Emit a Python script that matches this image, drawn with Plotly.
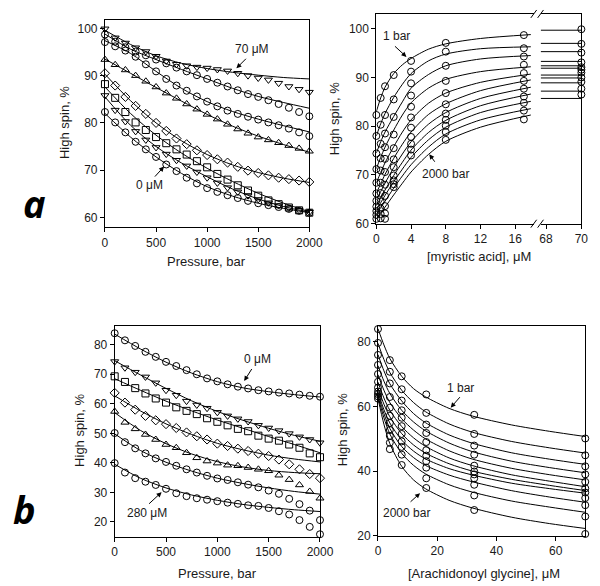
import plotly.graph_objects as go

W, H = 600, 586

# ================= panel a: myristic acid =================
pressure_a = list(range(0, 2001, 100))
conc_a = [0, 0.5, 1, 2, 4, 8, 17, 70]
hs_a_0   = [82.3, 80.1, 78.0, 76.0, 74.4, 72.8, 71.2, 69.8, 68.4, 67.2, 66.2, 65.4, 64.7, 64.1, 63.5, 63.0, 62.6, 62.2, 61.8, 61.4, 61.0]
hs_a_05  = [85.8, 82.7, 80.3, 78.2, 76.4, 74.8, 73.4, 72.1, 70.9, 69.6, 68.4, 67.3, 66.3, 65.4, 64.6, 63.8, 63.1, 62.5, 62.0, 61.5, 61.1]
hs_a_1   = [88.2, 85.3, 82.3, 80.1, 78.5, 77.0, 75.7, 74.4, 73.3, 71.9, 70.6, 69.2, 68.0, 66.8, 65.7, 64.6, 63.6, 62.8, 62.1, 61.5, 61.0]
hs_a_2   = [90.5, 87.9, 85.5, 83.6, 81.9, 80.0, 78.3, 76.7, 75.5, 74.2, 73.2, 72.3, 71.6, 70.7, 69.9, 69.4, 68.9, 68.4, 68.1, 67.8, 67.5]
hs_a_4   = [93.4, 92.3, 91.2, 90.0, 88.8, 87.6, 86.3, 85.2, 84.0, 82.9, 81.8, 80.8, 79.7, 78.7, 77.8, 77.0, 76.4, 75.8, 75.2, 74.6, 74.0]
hs_a_8   = [97.1, 96.2, 95.3, 94.0, 92.4, 90.9, 89.3, 87.9, 86.8, 85.6, 84.5, 83.5, 82.6, 81.9, 81.3, 80.7, 80.1, 79.5, 78.8, 78.0, 77.2]
hs_a_17  = [98.7, 97.2, 96.0, 95.1, 94.3, 93.4, 92.6, 91.7, 90.9, 90.1, 89.3, 88.5, 87.7, 86.9, 86.1, 85.5, 84.8, 84.0, 83.2, 82.3, 81.4]
hs_a_70  = [99.9, 98.0, 96.9, 95.9, 95.1, 94.1, 93.1, 92.4, 92.1, 91.8, 91.6, 91.3, 91.0, 90.5, 90.0, 89.5, 89.1, 88.4, 87.7, 87.1, 86.5]
series_a = [hs_a_0, hs_a_05, hs_a_1, hs_a_2, hs_a_4, hs_a_8, hs_a_17, hs_a_70]

fit_p = [0, 250, 500, 750, 1000, 1250, 1500, 1750, 2000]
fit_a_0  = [82.0, 77.0, 72.8, 69.3, 66.5, 64.5, 63.0, 61.9, 61.0]
fit_a_05 = [85.5, 79.5, 75.0, 71.5, 68.6, 66.0, 63.9, 62.3, 61.1]
fit_a_1  = [87.6, 82.0, 77.4, 73.6, 70.4, 67.6, 65.1, 63.0, 61.2]
fit_a_2  = [90.3, 84.7, 80.0, 76.2, 73.3, 71.1, 69.5, 68.3, 67.4]
fit_a_4  = [93.5, 90.5, 87.5, 84.6, 81.8, 79.3, 77.2, 75.4, 73.8]
fit_a_8  = [97.4, 94.7, 90.9, 87.3, 84.5, 82.4, 80.8, 79.4, 78.1]
fit_a_17 = [98.8, 95.6, 93.4, 91.3, 89.3, 87.3, 85.6, 84.3, 83.1]
fit_a_70 = [99.6, 96.6, 94.2, 92.6, 91.5, 90.7, 90.1, 89.6, 89.3]
fits_a = [fit_a_0, fit_a_05, fit_a_1, fit_a_2, fit_a_4, fit_a_8, fit_a_17, fit_a_70]
symbols_a = ["circle-open", "triangle-down-open", "square-open", "diamond-open",
             "triangle-up-open", "circle-open", "circle-open", "triangle-down-open"]

# right: binding curves at 1, 200, ..., 2000 bar (every 2nd pressure of left panel)
press_idx_r = list(range(0, 21, 2))
fit_ma_x = [0, 0.5, 1, 2, 3, 4, 6, 8, 12, 17.8]
fit_ma = [
    [83.0, 85.8, 88.0, 90.8, 92.6, 93.9, 95.8, 96.9, 98.0, 98.8],
    [78.0, 80.5, 82.6, 85.9, 88.6, 90.8, 93.4, 94.8, 95.9, 96.3],
    [74.5, 76.8, 78.8, 82.0, 85.0, 87.8, 90.6, 92.4, 93.8, 94.5],
    [71.3, 73.6, 75.7, 79.2, 82.3, 84.8, 87.8, 89.6, 91.2, 92.2],
    [68.4, 70.5, 72.5, 75.8, 78.8, 81.3, 84.7, 86.8, 89.0, 90.7],
    [66.3, 68.2, 70.1, 73.4, 76.3, 78.8, 82.4, 84.6, 87.3, 89.5],
    [64.9, 66.6, 68.3, 71.5, 74.3, 76.8, 80.4, 82.8, 85.7, 88.0],
    [63.7, 65.3, 66.9, 69.9, 72.6, 75.1, 78.7, 81.2, 84.2, 86.6],
    [62.9, 64.3, 65.8, 68.6, 71.2, 73.6, 77.2, 79.8, 82.8, 85.1],
    [62.0, 63.3, 64.6, 67.3, 69.8, 72.1, 75.7, 78.4, 81.3, 83.6],
    [61.0, 62.2, 63.4, 65.9, 68.3, 70.6, 74.2, 76.9, 79.8, 82.3],
]
plateau_x = [67.7, 70.0]
plateau_a = [99.7, 97.0, 95.3, 93.3, 92.4, 91.9, 90.5, 89.9, 88.9, 87.2, 85.7]

# ================= panel b: arachidonoyl glycine =================
pressure_b = list(range(0, 2001, 100))
conc_b = [0, 4, 8, 16.3, 32.5, 70, 280]
hs_b_0   = [83.9, 81.5, 79.6, 77.6, 75.9, 74.2, 72.8, 71.4, 70.0, 68.6, 67.6, 66.6, 65.8, 65.2, 64.6, 64.2, 63.8, 63.5, 63.1, 62.7, 62.4]
hs_b_4   = [74.3, 72.2, 70.7, 69.1, 67.1, 64.6, 62.9, 60.9, 59.6, 58.5, 57.1, 55.9, 54.9, 54.0, 52.7, 51.8, 50.9, 49.9, 48.8, 47.9, 46.8]
hs_b_8   = [69.3, 67.4, 65.3, 63.5, 61.8, 60.4, 58.8, 57.6, 56.5, 55.1, 53.9, 52.7, 51.5, 50.7, 49.2, 48.2, 47.5, 46.2, 45.1, 43.2, 41.9]
hs_b_16  = [63.7, 60.4, 58.0, 55.9, 54.4, 53.1, 51.8, 50.3, 49.0, 47.9, 46.5, 45.7, 44.8, 44.0, 43.1, 42.3, 41.1, 39.5, 37.8, 36.2, 34.8]
hs_b_32  = [57.4, 53.7, 51.5, 49.6, 47.9, 46.2, 45.1, 43.4, 41.7, 40.6, 39.9, 39.2, 39.0, 38.4, 37.8, 37.3, 35.8, 34.3, 32.5, 30.3, 28.0]
hs_b_70  = [50.1, 47.0, 44.9, 43.2, 41.5, 40.3, 39.0, 37.8, 36.7, 35.6, 34.7, 34.2, 33.4, 32.6, 31.7, 30.6, 29.5, 27.8, 26.0, 23.8, 20.6]
hs_b_280 = [39.9, 36.7, 34.8, 33.6, 32.5, 31.2, 29.7, 28.7, 28.0, 27.5, 27.0, 26.5, 26.1, 25.6, 25.4, 24.7, 23.6, 22.5, 20.6, 18.3, 15.8]
series_b = [hs_b_0, hs_b_4, hs_b_8, hs_b_16, hs_b_32, hs_b_70, hs_b_280]

fit_b_0   = [83.6, 78.6, 74.1, 70.4, 67.5, 65.4, 64.1, 63.1, 62.3]
fit_b_4   = [74.6, 69.8, 65.2, 61.0, 57.4, 54.4, 51.7, 49.3, 47.3]
fit_b_8   = [68.5, 64.6, 60.9, 57.6, 54.5, 51.7, 48.9, 46.2, 43.4]
fit_b_16  = [62.7, 57.6, 53.2, 49.6, 46.6, 44.4, 42.6, 41.3, 40.3]
fit_b_32  = [57.0, 51.0, 46.5, 43.0, 40.4, 38.6, 37.4, 36.7, 36.3]
fit_b_70  = [49.8, 44.2, 40.2, 37.2, 34.8, 33.0, 31.5, 30.3, 29.4]
fit_b_280 = [39.5, 34.8, 31.5, 29.1, 27.3, 25.9, 24.9, 24.1, 23.5]
fits_b = [fit_b_0, fit_b_4, fit_b_8, fit_b_16, fit_b_32, fit_b_70, fit_b_280]
symbols_b = ["circle-open", "triangle-down-open", "square-open", "diamond-open",
             "triangle-up-open", "circle-open", "circle-open"]

fit_ag_x = [0, 2, 4, 8, 12, 16, 24, 32, 45, 58, 70]
fit_ag = [
    [84.0, 79.0, 74.8, 69.3, 65.5, 63.0, 59.4, 57.0, 54.3, 52.3, 50.7],
    [79.5, 74.5, 70.5, 65.0, 61.2, 58.4, 54.6, 52.0, 49.2, 47.2, 45.6],
    [76.0, 71.0, 67.0, 61.7, 57.8, 55.0, 51.2, 48.6, 45.7, 43.7, 42.1],
    [72.6, 67.8, 64.0, 58.8, 55.2, 52.5, 48.7, 46.0, 43.1, 41.1, 39.5],
    [69.8, 65.0, 61.2, 56.2, 52.7, 50.0, 46.3, 43.7, 40.9, 38.9, 37.3],
    [67.5, 62.6, 58.8, 53.8, 50.3, 47.7, 44.1, 41.7, 38.9, 36.9, 35.2],
    [65.7, 60.7, 56.8, 51.6, 48.1, 45.6, 42.3, 40.0, 37.5, 35.6, 34.0],
    [64.4, 59.0, 54.9, 49.6, 46.2, 43.8, 40.8, 38.8, 36.3, 34.6, 33.2],
    [63.6, 57.8, 53.2, 47.6, 44.2, 41.8, 38.8, 36.7, 34.0, 32.0, 30.4],
    [62.9, 56.5, 51.5, 45.5, 41.8, 39.2, 35.8, 33.5, 30.8, 28.9, 27.3],
    [62.4, 54.5, 48.5, 41.5, 37.3, 34.6, 31.0, 28.6, 25.8, 23.8, 22.3],
]

# ================= figure =================
def px(x):
    return x / W

def py(y):
    return 1 - y / H

MK = dict(size=7, color="black", line=dict(width=1, color="black"))
LN = dict(color="black", width=1)
fig = go.Figure()

def add_pts(x, y, sym, xa, ya):
    fig.add_trace(go.Scatter(x=x, y=y, mode="markers", xaxis=xa, yaxis=ya, cliponaxis=False,
                             marker=dict(symbol=sym, **MK), hoverinfo="skip"))

def add_line(x, y, xa, ya):
    fig.add_trace(go.Scatter(x=x, y=y, mode="lines", xaxis=xa, yaxis=ya,
                             line=dict(shape="spline", smoothing=0.8, **LN), hoverinfo="skip"))

# a-left
for s, f, sym in zip(series_a, fits_a, symbols_a):
    add_line(fit_p, f, "x", "y")
    add_pts(pressure_a, s, sym, "x", "y")

# a-right
for i, pi in enumerate(press_idx_r):
    add_line(fit_ma_x, fit_ma[i], "x2", "y2")
    add_line(plateau_x, [plateau_a[i]] * len(plateau_x), "x3", "y3")
    add_pts(conc_a[:-1], [s[pi] for s in series_a[:-1]], "circle-open", "x2", "y2")
    add_pts(conc_a[-1:], [series_a[-1][pi]], "circle-open", "x3", "y3")

# b-left
for s, f, sym in zip(series_b, fits_b, symbols_b):
    add_line(fit_p, f, "x4", "y4")
    add_pts(pressure_b, s, sym, "x4", "y4")

# b-right
for i, pi in enumerate(press_idx_r):
    add_line(fit_ag_x, fit_ag[i], "x5", "y5")
    add_pts(conc_b[:6], [s[pi] for s in series_b[:6]], "circle-open", "x5", "y5")

FONT = "Liberation Sans, Arial, sans-serif"
ax_common = dict(showline=True, linecolor="black", linewidth=1, ticks="outside", ticklen=4,
                 tickwidth=1, tickcolor="black", showgrid=False, zeroline=False,
                 tickfont=dict(family=FONT, size=12, color="#1a1a1a"))

def xd(a, b):
    return [a / W, b / W]

def yd(top, bottom):
    return [1 - bottom / H, 1 - top / H]

fig.update_layout(
    width=W, height=H, margin=dict(l=0, r=0, t=0, b=0),
    paper_bgcolor="white", plot_bgcolor="white", showlegend=False,
    xaxis=dict(domain=xd(96.7, 307), range=[0, 2000], anchor="y", mirror=True,
               tickvals=[0, 500, 1000, 1500, 2000], **ax_common),
    yaxis=dict(domain=yd(12, 222), range=[57.9, 101.8], anchor="x", mirror=True,
               tickvals=[60, 70, 80, 90, 100], **ax_common),
    xaxis2=dict(domain=xd(376, 538), range=[0, 18.14], anchor="y2", mirror=True,
                tickvals=[0, 4, 8, 12, 16], **ax_common),
    yaxis2=dict(domain=yd(6, 218.3), range=[60, 103.04], anchor="x2",
                tickvals=[60, 70, 80, 90, 100], **ax_common),
    xaxis3=dict(domain=xd(545, 587), range=[67.69, 70], anchor="y3", mirror=True,
                tickvals=[68, 70], **ax_common),
    yaxis3=dict(domain=yd(6, 218.3), range=[60, 103.04], anchor="x3", side="right",
                showline=True, linecolor="black", linewidth=1, ticks="",
                showticklabels=False, showgrid=False, zeroline=False),
    xaxis4=dict(domain=xd(106.7, 318), range=[0, 2000], anchor="y4", mirror=True,
                tickvals=[0, 500, 1000, 1500, 2000], **ax_common),
    yaxis4=dict(domain=yd(322.3, 535), range=[15, 86.2], anchor="x4", mirror=True,
                tickvals=[20, 30, 40, 50, 60, 70, 80], **ax_common),
    xaxis5=dict(domain=xd(377.7, 591), range=[0, 70], anchor="y5", mirror=True,
                tickvals=[0, 20, 40, 60], **ax_common),
    yaxis5=dict(domain=yd(322.3, 534.3), range=[20, 84.7], anchor="x5", mirror=True,
                tickvals=[20, 40, 60, 80], **ax_common),
)

# axis break marks
shapes = []
for yb in (6, 218.3):
    for xc in (538, 545):
        shapes.append(dict(type="line", xref="paper", yref="paper",
                           x0=px(xc - 3), y0=py(yb + 4), x1=px(xc + 3), y1=py(yb - 4),
                           line=dict(color="black", width=1)))
fig.update_layout(shapes=shapes)

ann = []

def text(x, y, t, size=12, angle=0):
    ann.append(dict(x=px(x), y=py(y), xref="paper", yref="paper", text=t, showarrow=False,
                    xanchor="center", yanchor="middle", textangle=angle,
                    font=dict(family=FONT, size=size, color="#1a1a1a")))

def arrow(tail, head):
    ann.append(dict(x=px(head[0]), y=py(head[1]), xref="paper", yref="paper", text="",
                    showarrow=True, ax=tail[0] - head[0], ay=tail[1] - head[1],
                    arrowhead=2, arrowsize=1, arrowwidth=1, arrowcolor="black"))

# axis titles
text(55, 116, "High spin, %", 13, -90)
text(201, 257, "Pressure, bar", 13)
text(333, 112, "High spin, %", 13, -90)
text(482, 252, "[myristic acid], μM", 13)
text(71, 427, "High spin, %", 13, -90)
text(213, 572, "Pressure, bar", 13)
text(342, 427, "High spin, %", 13, -90)
text(487, 572, "[Arachidonoyl glycine], μM", 13)

# curve labels
text(248, 42, "70 μM")
arrow((243, 50), (232, 61))
text(143, 179, "0 μM")
arrow((147, 172), (157.5, 160.5))
text(397, 28, "1 bar")
arrow((394, 37.5), (407, 49.5))
text(447, 168, "2000 bar")
arrow((437, 157), (430.5, 148))
text(254, 355, "0 μM")
arrow((248.5, 364), (240, 377.5))
text(140, 511.5, "280 μM")
arrow((141, 503), (155, 490))
text(463, 385, "1 bar")
arrow((463, 392.5), (452.5, 404.5))
text(407, 511, "2000 bar")
arrow((410, 501), (421, 491))

# panel letters
for (x, y, t) in [(24, 197, "a"), (14, 507, "b")]:
    ann.append(dict(x=px(x), y=py(y), xref="paper", yref="paper", text="<b><i>" + t + "</i></b>",
                    showarrow=False, xanchor="center", yanchor="middle",
                    font=dict(family="Open Sans, DejaVu Sans, sans-serif", size=38, color="black")))

fig.update_layout(annotations=ann)
fig.write_html("out.html")
